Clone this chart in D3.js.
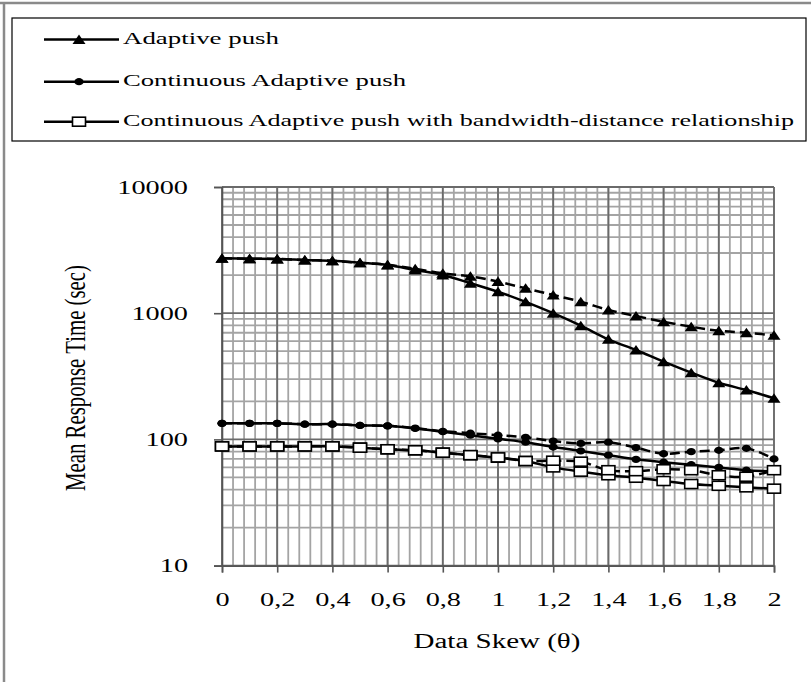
<!DOCTYPE html>
<html><head><meta charset="utf-8">
<script src="https://cdn.jsdelivr.net/npm/d3@7"></script>
<style>
html,body{margin:0;padding:0;background:#fff;}
svg{display:block;font-family:"Liberation Serif","Times New Roman",serif;}
</style></head>
<body><svg id="c" width="811" height="682"></svg>
<script>
// ---- data ----
const theta = [0,0.1,0.2,0.3,0.4,0.5,0.6,0.7,0.8,0.9,1.0,1.1,1.2,1.3,1.4,1.5,1.6,1.7,1.8,1.9,2.0];
const xTickValues = [0,0.2,0.4,0.6,0.8,1,1.2,1.4,1.6,1.8,2];
const xTickLabels = ["0","0,2","0,4","0,6","0,8","1","1,2","1,4","1,6","1,8","2"];
const yTickValues = [10,100,1000,10000];
const yTickLabels = ["10","100","1000","10000"];
const apSolid   = [2720,2700,2690,2640,2600,2510,2410,2200,2010,1730,1480,1230,1000,796,621,511,413,338,281,246,212];
const apDashed  = [2720,2700,2690,2640,2600,2510,2420,2250,2070,1960,1780,1575,1394,1233,1060,950,856,781,726,700,668];
const capSolid  = [134,134,134,132,132,129,128,122,115,108,101,95,87,81,75,69.5,66,63,60,57,56];
const capDashed = [134,134,134,132,132,129,128,123,116,112,108,104,97,93,95,86,77,80,82,85,70];
const cabSolid  = [88,88,88,88,88,86,83.5,82,78.5,75,71.6,67.4,60,55.5,52,49.7,46.8,44.3,42.9,41.7,40.7];
const cabDashed = [88,88,88,88,88,86,83.5,82,78.5,75,72,67.4,67.8,66.6,57,56,58,57,52,50.6,57];
const legendLabels = ["Adaptive push","Continuous Adaptive push","Continuous Adaptive push with bandwidth-distance relationship"];
const xTitle = "Data Skew (\u03b8)";
const yTitle = "Mean Response Time (sec)";

const series = [
  {v: apSolid, m:"tri", dash:null},
  {v: apDashed, m:"tri", dash:"10,5"},
  {v: capSolid, m:"dot", dash:null},
  {v: capDashed, m:"dot", dash:"10,5"},
  {v: cabSolid, m:"sq", dash:null},
  {v: cabDashed, m:"sq", dash:"10,5"}
];

const SX = 1.45; // horizontal glyph stretch seen in the reference
function stretch(sel){
  sel.each(function(){
    const w = this.getComputedTextLength();
    this.setAttribute("textLength", w*SX);
    this.setAttribute("lengthAdjust","spacingAndGlyphs");
  });
}

const svg = d3.select("#c");
// outer frame (top & left)
svg.append("line").attr("x1",0).attr("x2",811).attr("y1",3).attr("y2",3).attr("stroke","#8a8a8a").attr("stroke-width",2.5);
svg.append("line").attr("x1",4).attr("x2",4).attr("y1",2).attr("y2",682).attr("stroke","#8a8a8a").attr("stroke-width",2.5);

const L = 222, R = 774, T = 187, B = 565.6;
const x = d3.scaleLinear().domain([0,2]).range([L,R]);
const y = d3.scaleLog().domain([10,10000]).range([B,T]);

const g = svg.append("g");
const minorX = d3.range(0, 2.0001, 0.04);
g.selectAll(".vx").data(minorX).enter().append("line")
  .attr("x1",d=>x(d)).attr("x2",d=>x(d)).attr("y1",T).attr("y2",B)
  .attr("stroke","#a4a4a4").attr("stroke-width",1.8);
const minorY = [];
[10,100,1000].forEach(b=>{ for(let k=2;k<=9;k++) minorY.push(b*k); });
g.selectAll(".hy").data(minorY).enter().append("line")
  .attr("x1",L).attr("x2",R).attr("y1",d=>y(d)).attr("y2",d=>y(d))
  .attr("stroke","#a4a4a4").attr("stroke-width",1.8);
g.selectAll(".vX").data(xTickValues).enter().append("line")
  .attr("x1",d=>x(d)).attr("x2",d=>x(d)).attr("y1",T).attr("y2",B)
  .attr("stroke","#6a6a6a").attr("stroke-width",1.8);
g.selectAll(".hY").data(yTickValues).enter().append("line")
  .attr("x1",L).attr("x2",R).attr("y1",d=>y(d)).attr("y2",d=>y(d))
  .attr("stroke","#6a6a6a").attr("stroke-width",1.8);

// axes
const xAxis = d3.axisBottom(x).tickValues(xTickValues).tickSize(7).tickFormat((d,i)=>xTickLabels[i]).tickPadding(20);
const ax = svg.append("g").attr("transform",`translate(0,${B})`).call(xAxis);
ax.select(".domain").attr("stroke","#555").attr("stroke-width",1.6);
ax.selectAll(".tick line").attr("stroke","#555").attr("stroke-width",1.6);
ax.selectAll("text").attr("font-family","Liberation Serif").attr("font-size",19.5).attr("fill","#000").call(stretch);

const yAxis = d3.axisLeft(y).tickValues(yTickValues).tickSize(8).tickFormat((d,i)=>yTickLabels[i]).tickPadding(26);
const ay = svg.append("g").attr("transform",`translate(${L},0)`).call(yAxis);
ay.select(".domain").attr("stroke","#555").attr("stroke-width",1.6);
ay.selectAll(".tick line").attr("stroke","#555").attr("stroke-width",1.6);
ay.selectAll("text").attr("font-family","Liberation Serif").attr("font-size",19.5).attr("fill","#000").call(stretch);

// axis titles
svg.append("text").attr("x",497).attr("y",648).attr("text-anchor","middle")
  .attr("font-size",20).text(xTitle).call(stretch);
svg.append("text").attr("transform",`translate(85,378) scale(${SX},1) rotate(-90)`).attr("text-anchor","middle")
  .attr("font-size",20).attr("textLength",226).attr("lengthAdjust","spacingAndGlyphs").text(yTitle);

// lines
const line = d3.line().x((d,i)=>x(theta[i])).y(d=>y(d)).curve(d3.curveCatmullRom.alpha(0.5));
const plot = svg.append("g");
series.forEach(s=>{
  plot.append("path").attr("d",line(s.v)).attr("fill","none").attr("stroke","#000")
    .attr("stroke-width",2.5).attr("stroke-dasharray",s.dash);
});
function marker(sel, type, cx, cy){
  if(type==="tri"){
    sel.append("path").attr("d",`M${cx-6.5},${cy+4.5}L${cx},${cy-5}L${cx+6.5},${cy+4.5}Z`).attr("fill","#000");
  } else if(type==="dot"){
    sel.append("ellipse").attr("cx",cx).attr("cy",cy).attr("rx",4.6).attr("ry",3.6).attr("fill","#000");
  } else {
    sel.append("rect").attr("x",cx-6.5).attr("y",cy-4.5).attr("width",13).attr("height",9)
      .attr("fill","#fff").attr("stroke","#000").attr("stroke-width",1.6);
  }
}
series.forEach(s=>{
  s.v.forEach((d,i)=>marker(plot, s.m, x(theta[i]), y(d)));
});

// legend
svg.append("rect").attr("x",12).attr("y",18).attr("width",794).attr("height",123)
  .attr("fill","#fff").attr("stroke","#000").attr("stroke-width",1.2);
const legY = [39.5,81.7,121.7];
const legM = ["tri","dot","sq"];
const legW = [156,283,671];
legendLabels.forEach((t,i)=>{
  svg.append("line").attr("x1",44).attr("x2",119).attr("y1",legY[i]).attr("y2",legY[i])
    .attr("stroke","#000").attr("stroke-width",2.5);
  marker(svg, legM[i], 79, legY[i]);
  svg.append("text").attr("x",123).attr("y",legY[i]+4.5).attr("font-size",17.5)
    .attr("textLength",legW[i]).attr("lengthAdjust","spacingAndGlyphs").text(t);
});
</script></body></html>
